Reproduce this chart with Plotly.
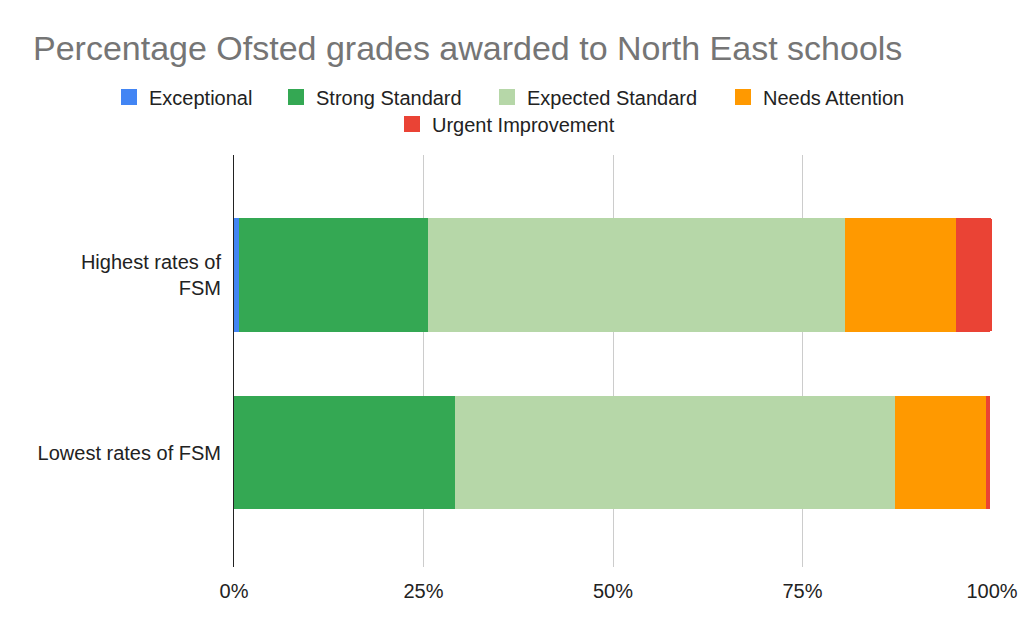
import plotly.graph_objects as go

categories = ["Highest rates of<br>FSM", "Lowest rates of FSM"]
series_names = ["Exceptional", "Strong Standard", "Expected Standard", "Needs Attention", "Urgent Improvement"]
exceptional = [0.7, 0.0]
strong = [24.9, 29.2]
expected = [55.0, 58.0]
needs = [14.6, 12.0]
urgent = [4.8, 0.6]
colors = ["#4285F4", "#34A853", "#B6D7A8", "#FF9900", "#EA4335"]
tick_vals = [0, 25, 50, 75, 100]
tick_text = ["0%", "25%", "50%", "75%", "100%"]

# legend layout (left text edge in px, row centre in px)
legend_text_x = [150, 317, 528, 764, 433]
legend_row_y = [97, 97, 97, 97, 124]

values = [exceptional, strong, expected, needs, urgent]
font = "Arial, 'Liberation Sans', sans-serif"
fig = go.Figure()
legend_layouts = {}
for i, (name, vals, col) in enumerate(zip(series_names, values, colors)):
    lg = "legend" if i == 0 else f"legend{i + 1}"
    fig.add_trace(go.Bar(
        y=categories, x=vals, name=name, orientation="h",
        marker=dict(color=col, line=dict(width=0)),
        showlegend=False, legendgroup=name,
    ))
    fig.add_trace(go.Scatter(
        x=[None], y=[None], mode="markers", name=name, legendgroup=name,
        marker=dict(symbol="square", size=16, color=col),
        legend=lg, showlegend=True,
    ))
    legend_layouts[lg] = dict(
        orientation="h", xref="container", x=(legend_text_x[i] - 41) / 1024,
        xanchor="left", yref="container", y=1 - legend_row_y[i] / 633,
        yanchor="middle", font=dict(size=20, color="#222222"),
        bgcolor="rgba(0,0,0,0)",
    )

fig.update_layout(
    barmode="stack",
    bargap=0.36,
    width=1024, height=633,
    margin=dict(l=234, r=32, t=155, b=66, autoexpand=False),
    paper_bgcolor="white", plot_bgcolor="white",
    font=dict(family=font, size=20, color="#222222"),
    title=dict(text="Percentage Ofsted grades awarded to North East schools",
               xref="container", x=33 / 1024, xanchor="left",
               yref="container", y=1 - 48 / 633, yanchor="middle",
               font=dict(family=font, size=34, color="#757575")),
    xaxis=dict(range=[0, 100], tickvals=tick_vals, ticktext=tick_text,
               showgrid=True, gridcolor="#CCCCCC", gridwidth=1, zeroline=False,
               showline=False, ticks="", ticklabelstandoff=10, automargin=False,
               tickfont=dict(size=20, color="#222222"), fixedrange=True),
    yaxis=dict(type="category", range=[1.645, -0.676], showline=True,
               linecolor="#222222", linewidth=1, showgrid=False, ticks="",
               ticklabelstandoff=8, automargin=False,
               tickfont=dict(size=20, color="#222222")),
    barcornerradius=3,
    **legend_layouts,
)
fig.write_html("out.html")
